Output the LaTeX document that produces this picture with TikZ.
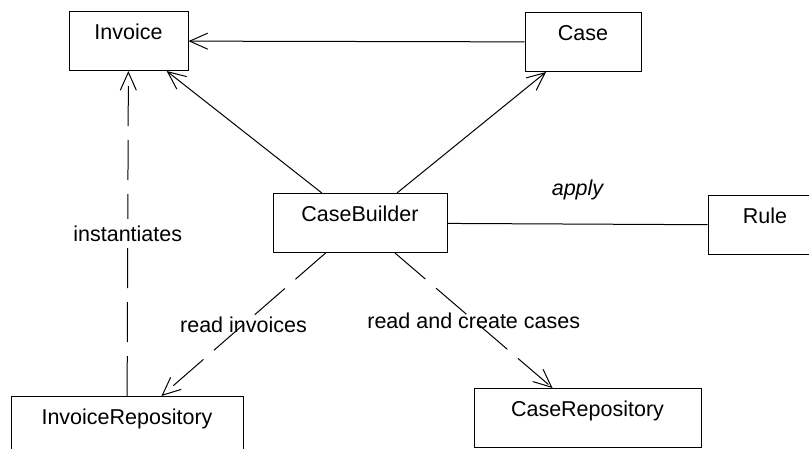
\documentclass[tikz,border=0pt]{standalone}
\usepackage{fontspec}
\setmainfont{Liberation Sans}
\usepackage{tikz}
\usetikzlibrary{arrows.meta}
\tikzset{
    >={Straight Barb[length=9pt, width=8pt]},
    classbox/.style={
        rectangle,
        draw, line width=0.5pt,
        anchor=north,
        inner ysep=0pt,
        text height=14pt,
        text depth=15.5pt
    },
    assoc/.style={draw, line width=0.5pt, ->},
    depend/.style={draw, line width=0.5pt, ->, dash pattern=on 20pt off 7pt},
    font={\fontsize{10.75pt}{13pt}\selectfont},
}

\begin{document}
\begin{tikzpicture}[x=0.5pt, y=-0.5pt]
\useasboundingbox (0,0) rectangle (809,449);
\clip (0,0) rectangle (809,449);
\node(Inv) at (128.5, 11)[classbox, minimum width=59.5pt]{Invoice};
\node(Case) at (583, 12)[classbox, minimum width=58pt]{Case};
\node(CB) at (360, 193)[classbox, minimum width=87pt]{CaseBuilder};
\node(Rule) at (765, 195)[classbox, minimum width=57pt]{Rule};
\node(InvRepo) at (127, 396)[classbox, minimum width=116pt]{InvoiceRepository};
\node(CaseRepo) at (587.5, 388)[classbox, minimum width=113.5pt]{CaseRepository};
\draw[assoc] (Case) -- (Inv);
\draw[assoc] (CB) -- (Inv);
\draw[assoc] (CB) -- (Case);
\draw[line width=0.5pt] (CB) -- node[yshift=17pt]{\itshape apply} (Rule);
\draw[depend] (InvRepo) -- node[fill=white]{instantiates} (Inv);
\draw[depend] (CB) -- node{read invoices} (InvRepo);
\draw[depend] (CB) -- node{read and create cases} (CaseRepo);
\end{tikzpicture}
\end{document}
